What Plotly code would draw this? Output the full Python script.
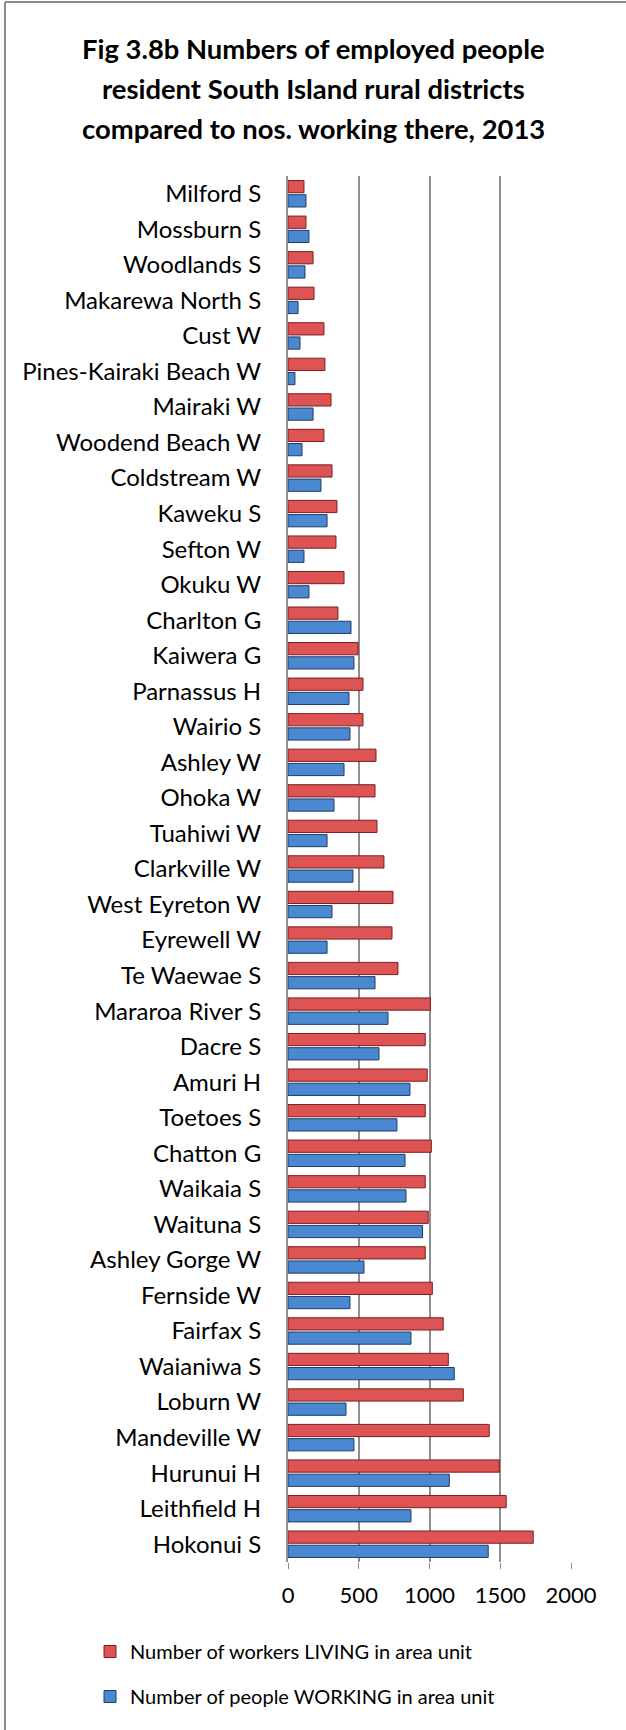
import plotly.graph_objects as go

categories = ["Milford S", "Mossburn S", "Woodlands S", "Makarewa North S", "Cust W",
              "Pines-Kairaki Beach W", "Mairaki W", "Woodend Beach W", "Coldstream W",
              "Kaweku S", "Sefton W", "Okuku W", "Charlton G", "Kaiwera G", "Parnassus H",
              "Wairio S", "Ashley W", "Ohoka W", "Tuahiwi W", "Clarkville W",
              "West Eyreton W", "Eyrewell W", "Te Waewae S", "Mararoa River S", "Dacre S",
              "Amuri H", "Toetoes S", "Chatton G", "Waikaia S", "Waituna S",
              "Ashley Gorge W", "Fernside W", "Fairfax S", "Waianiwa S", "Loburn W",
              "Mandeville W", "Hurunui H", "Leithfield H", "Hokonui S"]

living = [113, 127, 177, 184, 254, 261, 304, 254, 311, 346, 339, 396, 353, 495, 530,
          530, 622, 615, 629, 678, 742, 735, 777, 1006, 970, 984, 970, 1013, 970, 991,
          970, 1020, 1097, 1133, 1239, 1422, 1493, 1542, 1733]

working = [127, 148, 120, 71, 85, 49, 177, 99, 233, 276, 113, 148, 445, 466, 431,
           438, 396, 325, 276, 459, 311, 276, 615, 707, 643, 862, 770, 827, 834, 951,
           537, 438, 869, 1175, 410, 466, 1140, 869, 1415]

x_ticks = [0, 500, 1000, 1500, 2000]

FONT = "Lato"

fig = go.Figure()
fig.add_trace(go.Bar(
    y=categories, x=living, orientation="h",
    name="Number of workers LIVING in area unit", legendgroup="a",
    marker=dict(color="#DE5454", line=dict(color="#7A1F1F", width=1)),
))
fig.add_trace(go.Bar(
    y=categories, x=working, orientation="h",
    name="Number of people WORKING in area unit", legendgroup="b",
    marker=dict(color="#4A88D2", line=dict(color="#1F3C66", width=1)),
))

L, R, T, B = 288, 571, 176, 1562
W, H = 626, 1730

def py(pix):
    return (B - pix) / (B - T)

def px(pix):
    return (pix - L) / (R - L)

title_lines = ["Fig 3.8b Numbers of employed people",
               "resident South Island rural districts",
               "compared to nos. working there, 2013"]
for line, yc in zip(title_lines, [49, 88, 128]):
    fig.add_annotation(text="<b>" + line + "</b>", xref="paper", yref="paper",
                       x=px(313), y=py(yc), showarrow=False,
                       xanchor="center", yanchor="middle",
                       font=dict(family=FONT, size=27.4, color="#000000"))

# chart frame (top and left edges visible)
fig.add_shape(type="line", xref="paper", yref="paper",
              x0=px(5), x1=px(630), y0=py(2), y1=py(2),
              line=dict(color="#8C8C8C", width=2), layer="below")
fig.add_shape(type="line", xref="paper", yref="paper",
              x0=px(5), x1=px(5), y0=py(2), y1=py(1735),
              line=dict(color="#8C8C8C", width=2), layer="below")

fig.update_layout(
    width=W, height=H,
    margin=dict(l=L, r=W - R, t=T, b=H - B, pad=0),
    paper_bgcolor="white", plot_bgcolor="white",
    barmode="group", bargap=0.2, bargroupgap=0.14,
    showlegend=True,
    legend=dict(x=px(90), y=py(1632), xanchor="left", yanchor="top",
                orientation="v", traceorder="grouped", tracegroupgap=16,
                font=dict(family=FONT, size=20, color="#000000"),
                bgcolor="rgba(0,0,0,0)"),
    font=dict(family=FONT, color="#000000"),
)

fig.update_xaxes(range=[0, 2000], tickvals=x_ticks, ticktext=[str(v) for v in x_ticks],
                 showgrid=True, gridcolor="#8E8E8E", gridwidth=2,
                 zeroline=False, showline=False,
                 ticks="outside", ticklen=6, tickcolor="#8E8E8E",
                 tickfont=dict(family=FONT, size=22, color="#000000"),
                 ticklabelstandoff=8, fixedrange=True)
fig.update_yaxes(autorange="reversed", showgrid=False, zeroline=False,
                 showline=True, linecolor="#8E8E8E", linewidth=2,
                 ticks="", tickfont=dict(family=FONT, size=24, color="#000000"),
                 ticklabelstandoff=20, fixedrange=True)

fig.write_html("out.html", config={"displayModeBar": False},
               post_script="document.body.style.margin='0';document.body.style.overflow='hidden';")
